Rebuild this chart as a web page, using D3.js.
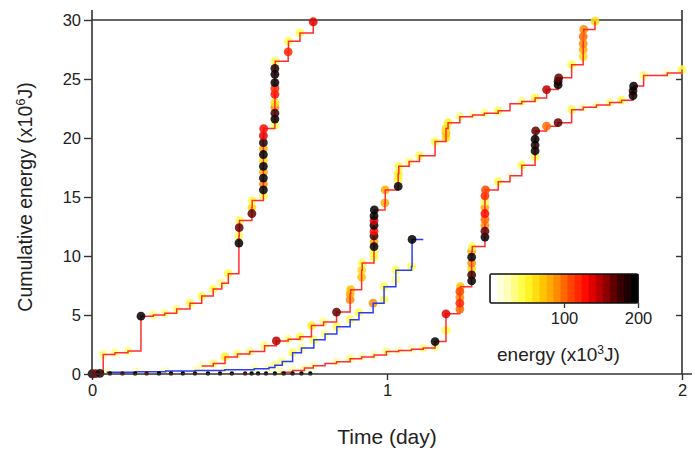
<!DOCTYPE html>
<html><head><meta charset="utf-8">
<script src="https://cdn.jsdelivr.net/npm/d3@7"></script>
<style>body{margin:0;background:#fff} text{font-family:"Liberation Sans",Arial,Helvetica,sans-serif;fill:#222}</style>
</head><body><svg id="c" width="695" height="450"></svg>
<script>
// ---- data: [time (day), cumulative energy (x10^6 J), event energy (x10^3 J) or null] ----
const xTicks = [0, 1, 2];
const yTicks = [0, 5, 10, 15, 20, 25, 30];
const cbTicks = [100, 200];
const cbDomain = [0, 200];

const seriesA = [
 [0.000,0.02,190],[0.012,0.04,160],[0.027,0.06,190],[0.038,1.66,30],[0.078,1.80,35],[0.122,1.95,30],
 [0.166,4.90,200],[0.208,5.00,30],[0.247,5.15,35],[0.287,5.50,30],[0.332,6.00,40],[0.372,6.60,45],
 [0.411,7.20,45],[0.440,7.70,35],[0.462,8.50,40],[0.498,11.1,200],[0.498,11.7,40],[0.499,12.4,170],
 [0.500,13.0,40],[0.542,13.6,170],[0.542,14.1,60],[0.543,14.7,40],
 [0.581,15.1,40],[0.581,15.6,200],[0.581,16.1,90],[0.581,16.6,200],[0.581,17.1,80],[0.581,17.6,195],
 [0.581,18.1,60],[0.581,18.6,200],[0.581,19.1,85],[0.581,19.6,190],[0.581,20.2,135],[0.582,20.8,130],
 [0.620,21.1,40],[0.620,21.6,200],[0.620,22.1,180],[0.620,22.6,90],[0.620,23.0,60],[0.620,23.7,130],
 [0.620,24.2,115],[0.620,24.7,200],[0.620,25.4,200],[0.620,25.9,190],[0.621,26.5,45],
 [0.665,27.3,120],[0.666,28.2,40],[0.705,28.9,45],[0.750,29.85,140]
];
const seriesB = [
 [0.372,0.68,25],[0.411,0.90,30],[0.451,1.45,50],[0.493,1.70,30],[0.535,1.90,30],[0.585,2.40,35],
 [0.625,2.80,145],[0.665,2.95,30],[0.705,3.15,45],[0.744,4.10,50],[0.785,4.40,35],[0.829,5.25,170],
 [0.875,6.30,95],[0.875,6.80,80],[0.877,7.15,70],[0.914,8.20,70],[0.914,8.80,60],[0.916,9.40,45],
 [0.956,9.90,40],[0.956,10.3,45],[0.956,10.8,200],[0.956,11.2,80],[0.956,11.7,180],[0.956,12.1,130],
 [0.956,12.6,200],[0.956,13.0,140],[0.956,13.4,200],[0.957,13.9,200],[0.993,14.5,80],[0.994,15.6,85],
 [1.038,15.9,200],[1.038,16.5,55],[1.038,17.0,50],[1.040,17.6,45],[1.075,18.0,35],[1.110,18.5,40],
 [1.163,19.7,45],[1.200,20.0,60],[1.200,20.4,70],[1.200,20.8,60],[1.207,21.3,50],[1.247,21.8,35],
 [1.290,21.95,25],[1.330,22.1,30],[1.377,22.3,45],[1.417,22.9,8],[1.457,23.1,30],[1.502,23.4,45],
 [1.541,24.1,150],[1.580,24.5,200],[1.580,24.8,190],[1.582,25.1,170],[1.626,26.2,45],[1.665,26.9,60],
 [1.665,27.5,80],[1.665,28.0,90],[1.665,28.6,100],[1.667,29.2,95],[1.705,29.9,60]
];
const seriesC = [
 [0.050,0.15,25],[0.150,0.20,20],[0.250,0.25,20],[0.350,0.30,20],[0.450,0.35,20],[0.550,0.45,25],
 [0.600,0.55,25],[0.620,0.75,30],[0.645,1.05,35],[0.680,1.80,40],[0.710,2.20,35],[0.752,2.90,40],
 [0.790,3.40,35],[0.830,4.00,40],[0.875,4.60,45],[0.905,5.20,40],[0.953,6.00,90],[0.990,6.30,45],
 [0.990,7.40,40],[1.030,8.00,35],[1.030,8.80,40],[1.083,9.10,45],[1.085,11.4,200],[1.123,11.4,null]
];
const seriesD = [
 [0.640,0.15,25],[0.680,0.30,20],[0.720,0.50,25],[0.750,0.70,25],[0.790,0.90,5],[0.829,1.04,25],
 [0.875,1.30,30],[0.914,1.45,25],[0.956,1.60,25],[0.998,1.90,30],[1.040,2.00,25],[1.083,2.10,25],
 [1.123,2.20,30],[1.163,2.30,35],[1.163,2.75,200],[1.200,3.70,45],[1.200,5.10,140],[1.247,5.50,100],
 [1.247,6.00,120],[1.247,6.50,90],[1.247,7.00,110],[1.249,7.40,70],[1.287,7.90,200],[1.287,8.40,180],
 [1.287,8.90,60],[1.287,9.40,90],[1.287,9.90,200],[1.287,10.4,80],[1.289,10.8,40],[1.332,11.6,200],
 [1.332,12.1,170],[1.332,12.6,90],[1.332,13.1,100],[1.332,13.6,130],[1.332,14.1,80],[1.332,14.6,45],
 [1.332,15.1,120],[1.334,15.6,110],[1.377,16.3,40],[1.417,16.8,10],[1.457,17.7,45],[1.502,18.4,40],
 [1.502,18.9,200],[1.502,19.4,190],[1.502,19.9,200],[1.504,20.6,170],[1.541,21.0,100],[1.580,21.3,170],
 [1.626,22.4,45],[1.665,22.6,25],[1.710,22.8,25],[1.755,23.0,30],[1.795,23.2,45],[1.834,23.6,200],
 [1.834,24.0,190],[1.836,24.4,200],[1.870,25.3,35],[1.950,25.5,25],[2.000,25.8,45]
];
const seriesE = [
 [0.061,0.05,190],[0.103,0.05,170],[0.146,0.05,200],[0.185,0.05,170],[0.227,0.05,200],[0.268,0.05,190],
 [0.308,0.05,200],[0.349,0.05,180],[0.393,0.05,200],[0.434,0.05,190],[0.474,0.05,200],[0.519,0.05,170],
 [0.541,0.05,200],[0.563,0.05,200],[0.590,0.05,190],[0.620,0.05,200],[0.650,0.05,200],[0.680,0.05,200],
 [0.710,0.05,190],[0.740,0.05,200]
];
const lines = [
 {data: seriesA, color: "#ff2e2e"},
 {data: seriesB, color: "#ff2e2e"},
 {data: seriesC, color: "#2a3cff"},
 {data: seriesD, color: "#ff2e2e"}
];

// ---- colour scale (white -> yellow -> red -> black) ----
const heatStops = ["#ffffff","#ffffb0","#ffff30","#ffd000","#ff9000","#ff4000","#ff0000","#a00000","#400000","#000000"];
const heatInterp = d3.piecewise(d3.interpolateRgb, heatStops);
const nBins = 21;
const col = e => heatInterp(Math.min(nBins - 1, Math.floor(e / (cbDomain[1] / nBins))) / (nBins - 1));

const svg = d3.select("#c");
const x = d3.scaleLinear().domain([0, 2]).range([92, 682]);
const y = d3.scaleLinear().domain([0, 30]).range([374, 20]);

// frame
const fr = svg.append("g").attr("stroke", "#333").attr("stroke-width", 1.6);
fr.append("line").attr("x1", x(0)).attr("x2", x(2)).attr("y1", y(30)).attr("y2", y(30));
fr.append("line").attr("x1", x(2)).attr("x2", x(2)).attr("y1", 10).attr("y2", y(0));

// markers (low energy below the lines, high energy above)
const lineGen = d3.line().x(d => x(d[0])).y(d => y(d[1])).curve(d3.curveStepAfter);
const drawMarkers = filt => lines.forEach(s => {
  svg.append("g").selectAll("circle").data(s.data.filter(d => d[2] != null && filt(d[2]))).join("circle")
    .attr("cx", d => x(d[0])).attr("cy", d => y(d[1])).attr("r", 4.4)
    .attr("fill", d => col(d[2])).attr("fill-opacity", 0.85);
});
drawMarkers(e => e < 100);
lines.forEach(s => {
  svg.append("path").datum(s.data).attr("d", lineGen)
    .attr("fill", "none").attr("stroke", s.color).attr("stroke-width", 1.5);
});
drawMarkers(e => e >= 100);
svg.append("g").selectAll("circle").data(seriesE).join("circle")
  .attr("cx", d => x(d[0])).attr("cy", d => y(d[1])).attr("r", 2.2)
  .attr("fill", d => col(d[2]));

// axes
const ax = svg.append("g").attr("transform", "translate(0,374)")
  .call(d3.axisBottom(x).tickValues(xTicks).tickFormat(d3.format("d")).tickSize(6).tickPadding(4));
ax.select(".domain").remove();
ax.append("line").attr("x1", x(0)).attr("x2", 692).attr("stroke", "#333").attr("stroke-width", 1.6);
const ay = svg.append("g").attr("transform", "translate(92,0)")
  .call(d3.axisLeft(y).tickValues(yTicks).tickSize(8).tickPadding(3));
ay.select(".domain").remove();
ay.append("line").attr("y1", 10).attr("y2", y(0)).attr("stroke", "#333").attr("stroke-width", 1.6);
const ar = svg.append("g").attr("transform", "translate(682,0)")
  .call(d3.axisLeft(y).tickValues(yTicks.slice(1, -1)).tickSize(6).tickFormat(""));
ar.select(".domain").remove();
[ax, ay, ar].forEach(g => {
  g.selectAll(".tick line").attr("stroke", "#333").attr("stroke-width", 1.4);
  g.selectAll(".tick text").attr("font-size", 16.5).attr("fill", "#222")
   .attr("font-family", "Liberation Sans, Arial, sans-serif");
});

// axis titles
const yl = svg.append("text").attr("transform", "translate(32,197) rotate(-90)")
  .attr("text-anchor", "middle").attr("font-size", 19.5);
yl.append("tspan").text("Cumulative energy (x10");
yl.append("tspan").attr("font-size", 13).attr("dy", -7).text("6");
yl.append("tspan").attr("dy", 7).text("J)");
svg.append("text").attr("x", 387).attr("y", 444).attr("text-anchor", "middle")
  .attr("font-size", 21).text("Time (day)");

// colour bar
const cb = d3.scaleLinear().domain(cbDomain).range([490, 638]);
const cbY = 274, cbH = 29;
const binW = cbDomain[1] / nBins;
svg.append("g").selectAll("rect").data(d3.range(nBins)).join("rect")
  .attr("x", i => cb(i * binW)).attr("width", i => cb((i + 1) * binW) - cb(i * binW) + 0.5)
  .attr("y", cbY).attr("height", cbH).attr("fill", i => heatInterp(i / (nBins - 1)));
svg.append("rect").attr("x", cb(0)).attr("y", cbY).attr("width", cb(200) - cb(0)).attr("height", cbH)
  .attr("fill", "none").attr("stroke", "#111").attr("stroke-width", 1.6).attr("rx", 1.5);
const cbAx = svg.append("g").attr("transform", `translate(0,${cbY + cbH})`)
  .call(d3.axisBottom(cb).tickValues(cbTicks).tickSize(5).tickPadding(4));
cbAx.select(".domain").remove();
cbAx.selectAll(".tick line").attr("stroke", "#333").attr("stroke-width", 1.3);
cbAx.selectAll(".tick text").attr("font-size", 16.5).attr("fill", "#222")
  .attr("font-family", "Liberation Sans, Arial, sans-serif");
const el = svg.append("text").attr("x", 497).attr("y", 361).attr("font-size", 19);
el.append("tspan").text("energy (x10");
el.append("tspan").attr("font-size", 12).attr("dy", -7).text("3");
el.append("tspan").attr("dy", 7).text("J)");
</script></body></html>
